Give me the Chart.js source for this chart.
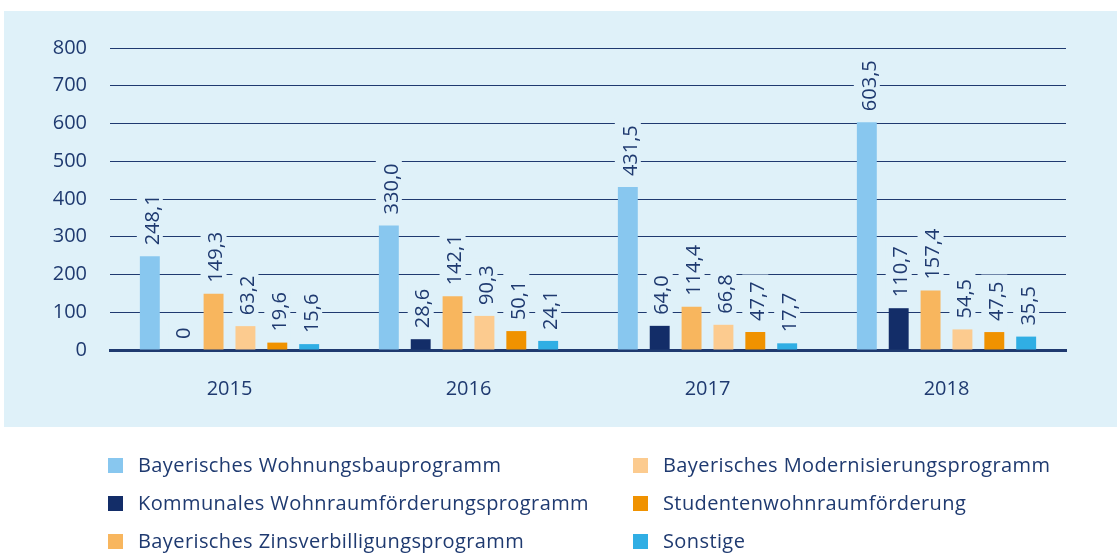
<!DOCTYPE html>
<html>
<head>
<meta charset="utf-8">
<script src="https://cdn.jsdelivr.net/npm/chart.js@4"></script>
<style>
  html, body { margin: 0; padding: 0; background: #ffffff; }
  #wrap { width: 1117px; height: 555px; }
</style>
</head>
<body>
<div id="wrap"><canvas id="foerderChart" width="1117" height="555"></canvas></div>
<script>
// Daten (Mio. Euro)
const years = ["2015", "2016", "2017", "2018"];
const seriesNames = [
  "Bayerisches Wohnungsbauprogramm",
  "Kommunales Wohnraumförderungsprogramm",
  "Bayerisches Zinsverbilligungsprogramm",
  "Bayerisches Modernisierungsprogramm",
  "Studentenwohnraumförderung",
  "Sonstige"
];
const wohnungsbau = [248.1, 330.0, 431.5, 603.5];
const kommunal = [0, 28.6, 64.0, 110.7];
const zinsverbilligung = [149.3, 142.1, 114.4, 157.4];
const modernisierung = [63.2, 90.3, 66.8, 54.5];
const studenten = [19.6, 50.1, 47.7, 47.5];
const sonstige = [15.6, 24.1, 17.7, 35.5];
const yTicks = [0, 100, 200, 300, 400, 500, 600, 700, 800];

const colors = ["#88c7ef", "#132d68", "#f8b65e", "#fccb8f", "#f09200", "#30aee4"];
const navy = "#1f3a70";
const panelBg = "#dff1f9";
const font = "'Open Sans', sans-serif";

const allSeries = [wohnungsbau, kommunal, zinsverbilligung, modernisierung, studenten, sonstige];

function fmt(v) {
  return v === 0 ? "0" : v.toFixed(1).replace(".", ",");
}

// light blue panel behind the plot
const panelPlugin = {
  id: "panel",
  beforeDraw(chart) {
    const c = chart.ctx;
    c.save();
    c.fillStyle = panelBg;
    c.fillRect(4, 11, chart.width - 4, 416);
    c.restore();
  }
};

// rotated value labels above the bars, with a panel-coloured box that breaks the gridlines
const valueLabels = {
  id: "valueLabels",
  afterDatasetsDraw(chart) {
    const c = chart.ctx;
    const fs = 20;
    c.save();
    c.font = fs + "px " + font;
    const items = [];
    chart.data.datasets.forEach((ds, i) => {
      chart.getDatasetMeta(i).data.forEach((bar, j) => {
        items.push({ x: bar.x, y: bar.y, text: fmt(ds.data[j]) });
      });
    });
    // boxes first
    c.fillStyle = panelBg;
    items.forEach(it => {
      const w = c.measureText(it.text).width;
      c.fillRect(it.x - 13, it.y - 11 - w - 7, 26, w + 7 + 10);
    });
    c.fillStyle = navy;
    c.textAlign = "left";
    c.textBaseline = "alphabetic";
    items.forEach(it => {
      c.save();
      c.translate(it.x, it.y - 11);
      c.rotate(-Math.PI / 2);
      c.fillText(it.text, 0, fs * 0.36 + 1.5);
      c.restore();
    });
    c.restore();
  }
};

// legend in two columns, drawn below the panel
const twoColLegend = {
  id: "twoColLegend",
  afterDraw(chart) {
    const c = chart.ctx;
    const colX = [108, 633];
    const rowY = [465, 503, 541];
    c.save();
    c.font = "20px " + font;
    c.letterSpacing = "0.4px";
    c.textAlign = "left";
    c.textBaseline = "middle";
    chart.data.datasets.forEach((ds, i) => {
      const col = Math.floor(i / 3);
      const row = i % 3;
      const x = colX[col];
      const y = rowY[row];
      c.fillStyle = ds.backgroundColor;
      c.fillRect(x, y - 7, 15, 15);
      c.fillStyle = navy;
      c.fillText(ds.label, x + 30, y + 1);
    });
    c.restore();
  }
};

const ctx = document.getElementById("foerderChart").getContext("2d");
new Chart(ctx, {
  type: "bar",
  data: {
    labels: years,
    datasets: seriesNames.map((name, i) => ({
      label: name,
      data: allSeries[i],
      backgroundColor: colors[i],
      borderWidth: 0,
      categoryPercentage: 0.8,
      barPercentage: 0.625
    }))
  },
  options: {
    responsive: false,
    animation: false,
    layout: { padding: { left: 0, right: 51, top: 48, bottom: 128 } },
    plugins: {
      legend: { display: false },
      tooltip: { enabled: false }
    },
    scales: {
      x: {
        grid: { display: false },
        border: { display: true, color: navy, width: 3 },
        ticks: { color: navy, font: { family: font, size: 20 }, padding: 19 },
        afterFit(scale) { scale.height = 77; }
      },
      y: {
        min: 0,
        max: 800,
        afterBuildTicks(scale) { scale.ticks = yTicks.map(v => ({ value: v })); },
        grid: { color: navy, lineWidth: 1, drawTicks: false },
        border: { display: false },
        ticks: { color: navy, font: { family: font, size: 20 }, padding: 23 },
        afterFit(scale) { scale.width = 110; }
      }
    }
  },
  plugins: [panelPlugin, valueLabels, twoColLegend]
});
</script>
</body>
</html>
